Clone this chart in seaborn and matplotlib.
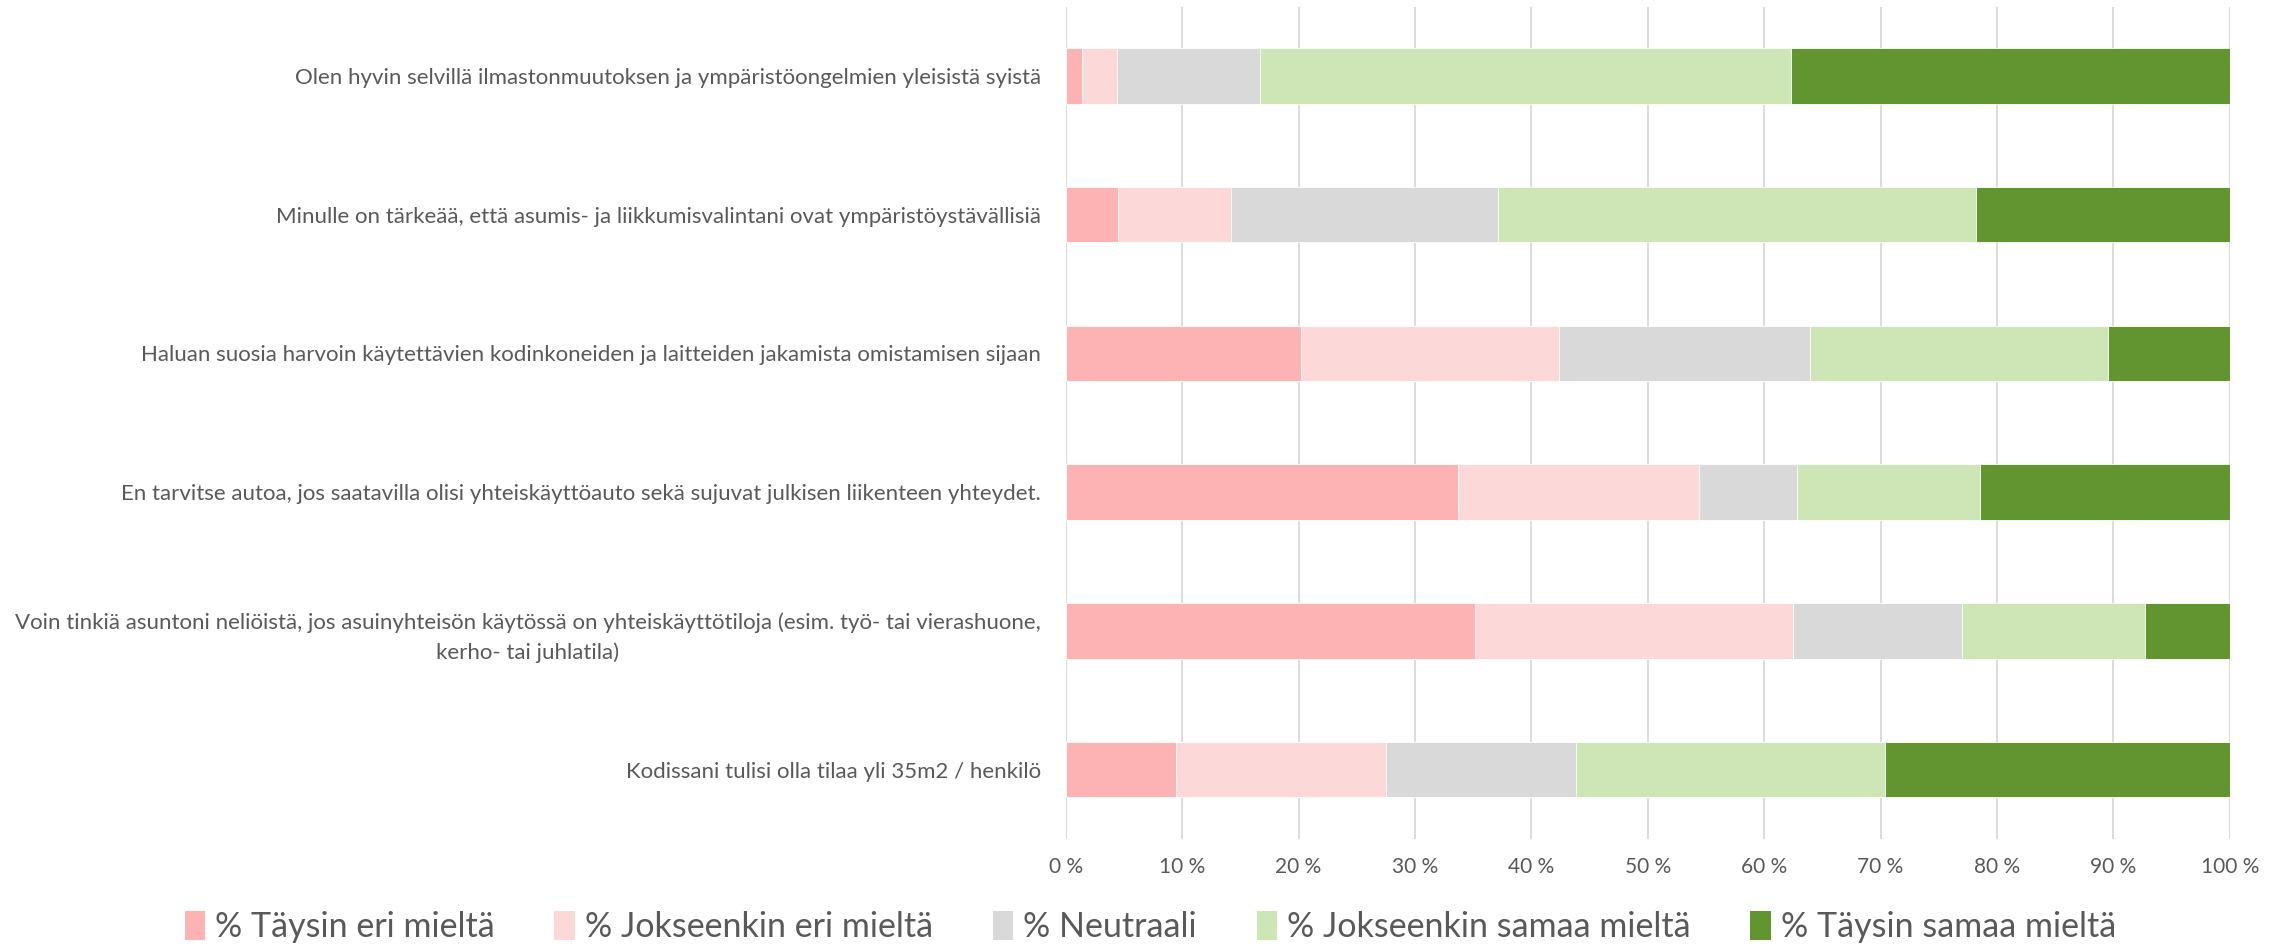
import matplotlib
matplotlib.use("Agg")
import matplotlib.pyplot as plt
from matplotlib.patches import Patch
from matplotlib.ticker import FuncFormatter
import seaborn as sns
import numpy as np
import pandas as pd

statements = [
    "Olen hyvin selvillä ilmastonmuutoksen ja ympäristöongelmien yleisistä syistä",
    "Minulle on tärkeää, että asumis- ja liikkumisvalintani ovat ympäristöystävällisiä",
    "Haluan suosia harvoin käytettävien kodinkoneiden ja laitteiden jakamista omistamisen sijaan",
    "En tarvitse autoa, jos saatavilla olisi yhteiskäyttöauto sekä sujuvat julkisen liikenteen yhteydet.",
    "Voin tinkiä asuntoni neliöistä, jos asuinyhteisön käytössä on yhteiskäyttötiloja (esim. työ- tai vierashuone,\nkerho- tai juhlatila)",
    "Kodissani tulisi olla tilaa yli 35m2 / henkilö",
]

series_names = [
    "% Täysin eri mieltä",
    "% Jokseenkin eri mieltä",
    "% Neutraali",
    "% Jokseenkin samaa mieltä",
    "% Täysin samaa mieltä",
]

# share of answers (%) per statement
taysin_eri = [1.4, 4.5, 20.2, 33.7, 35.2, 9.5]
jokseenkin_eri = [3.0, 9.7, 22.2, 20.7, 27.3, 18.0]
neutraali = [12.3, 22.9, 21.5, 8.4, 14.5, 16.3]
jokseenkin_samaa = [45.6, 41.1, 25.6, 15.7, 15.7, 26.6]
taysin_samaa = [37.7, 21.8, 10.5, 21.5, 7.3, 29.6]

colors = ["#FDB3B3", "#FDD8D8", "#D9D9D9", "#CEE6B5", "#62952F"]

df = pd.DataFrame({
    "statement": statements,
    series_names[0]: taysin_eri,
    series_names[1]: jokseenkin_eri,
    series_names[2]: neutraali,
    series_names[3]: jokseenkin_samaa,
    series_names[4]: taysin_samaa,
})
cum = df[series_names].cumsum(axis=1)

sns.set_style("white")
plt.rcParams["font.family"] = ["Lato", "DejaVu Sans"]
text_col = "#595959"

fig = plt.figure(figsize=(22.87, 9.5), dpi=100)
ax = fig.add_axes([0.466, 0.117, 0.509, 0.876])

# stacked bars: draw cumulative totals from the last series backwards
for name, col in reversed(list(zip(series_names, colors))):
    sns.barplot(x=cum[name], y=df["statement"], orient="h", color=col,
                width=0.4, ax=ax, zorder=2, edgecolor="white", linewidth=0.6,
                saturation=1)

ax.set_xlim(0, 100)
ax.set_xticks(np.arange(0, 101, 10))
ax.xaxis.set_major_formatter(FuncFormatter(lambda v, p: f"{int(round(v))} %"))
ax.grid(axis="x", color="#DCDCDC", linewidth=1.4, zorder=0)
ax.grid(axis="y", visible=False)
ax.set_axisbelow(True)
for s in ax.spines.values():
    s.set_visible(False)
ax.set_xlabel("")
ax.set_ylabel("")
ax.tick_params(axis="x", length=0, pad=13, labelsize=15, labelcolor=text_col)
ax.tick_params(axis="y", length=0, pad=18, labelsize=16, labelcolor=text_col)
for lab in ax.get_yticklabels():
    lab.set_multialignment("center")
    lab.set_linespacing(1.6)

handles = [Patch(facecolor=c, edgecolor="none") for c in colors]
fig.legend(handles, series_names, loc="center", bbox_to_anchor=(0.503, 0.024),
           ncol=5, frameon=False, fontsize=24.5, labelcolor=text_col,
           handlelength=0.6, handleheight=0.9, handletextpad=0.3,
           columnspacing=1.75)

fig.savefig("out.png", dpi=100)
